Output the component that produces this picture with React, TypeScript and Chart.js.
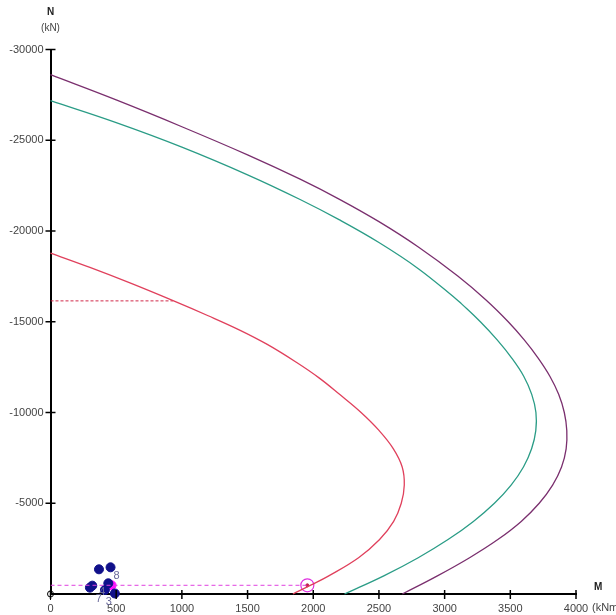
import React, { useEffect, useRef } from "react";
import { Chart, registerables } from "chart.js";

Chart.register(...registerables);

const xTickValues = [0, 500, 1000, 1500, 2000, 2500, 3000, 3500, 4000];
const yTickValues = [-30000, -25000, -20000, -15000, -10000, -5000];

const redM = [0, 300, 600, 933, 1200, 1440, 1650, 1871, 2044, 2200, 2364, 2502, 2610, 2677, 2693, 2670, 2612, 2505, 2345, 2118, 1985, 1845];
const redN = [-18780, -17990, -17150, -16160, -15330, -14540, -13750, -12767, -11907, -11000, -10000, -9000, -8000, -7000, -6000, -5000, -4000, -3000, -2000, -1000, -500, 0];

const greenM = [0, 500, 1000, 1500, 1900, 2200, 2500, 2800, 3087, 3127, 3272, 3400, 3511, 3602, 3663, 3695, 3694, 3662, 3600, 3506, 3379, 3219, 3026, 2799, 2537, 2238];
const greenN = [-27180, -25970, -24620, -23095, -21735, -20610, -19365, -17925, -16260, -16000, -15000, -14000, -13000, -12000, -11000, -10000, -9000, -8000, -7000, -6000, -5000, -4000, -3000, -2000, -1000, 0];

const purpleM = [0, 500, 1000, 1500, 1900, 2200, 2500, 2800, 3100, 3315, 3484, 3606, 3712, 3801, 3868, 3911, 3930, 3925, 3890, 3822, 3720, 3583, 3405, 3190, 2945, 2678];
const purpleN = [-28610, -27220, -25745, -24195, -22855, -21745, -20515, -19120, -17520, -16200, -15000, -14000, -13000, -12000, -11000, -10000, -9000, -8000, -7000, -6000, -5000, -4000, -3000, -2000, -1000, 0];

const redDashM = [0, 933];
const redDashN = [-16150, -16150];

const magentaDashM = [0, 1955];
const magentaDashN = [-480, -480];

const loadM = [369, 457, 318, 300, 414, 440, 490];
const loadN = [-1360, -1470, -460, -350, -220, -590, -30];
const loadLabels = ["", "", "", "", "7", "4", "3"];

const criticalM = [465];
const criticalN = [-480];
const criticalLabels = ["8"];

const designM = [1955];
const designN = [-480];

const toXY = (m: number[], n: number[]) => m.map((v, i) => ({ x: v, y: n[i] }));

const FONT = "'Liberation Sans', Arial, sans-serif";

const axisDecor = {
  id: "axisDecor",
  afterDraw(chart: any) {
    const ctx = chart.ctx;
    const xs = chart.scales.x;
    const ys = chart.scales.y;
    const x0 = xs.getPixelForValue(0);
    const y0 = ys.getPixelForValue(0);
    ctx.save();
    ctx.strokeStyle = "#000";
    ctx.lineWidth = 1.5;
    xTickValues.forEach((v) => {
      const px = xs.getPixelForValue(v);
      ctx.beginPath();
      ctx.moveTo(px, y0 - 4);
      ctx.lineTo(px, y0 + 5);
      ctx.stroke();
    });
    yTickValues.forEach((v) => {
      const py = ys.getPixelForValue(v);
      ctx.beginPath();
      ctx.moveTo(x0 - 5, py);
      ctx.lineTo(x0 + 5, py);
      ctx.stroke();
    });
    ctx.lineWidth = 1;
    ctx.beginPath();
    ctx.arc(x0, y0, 3, 0, Math.PI * 2);
    ctx.stroke();
    ctx.beginPath();
    ctx.moveTo(x0, y0 - 4);
    ctx.lineTo(x0, y0 + 6);
    ctx.stroke();

    ctx.fillStyle = "#222";
    ctx.textAlign = "center";
    ctx.textBaseline = "middle";
    ctx.font = `bold 10px ${FONT}`;
    ctx.fillText("N", x0, 12);
    ctx.font = `10px ${FONT}`;
    ctx.fillStyle = "#444";
    ctx.fillText("(kN)", x0, 28);
    ctx.textAlign = "left";
    ctx.font = `bold 10px ${FONT}`;
    ctx.fillStyle = "#222";
    ctx.fillText("M", 594, 587);
    ctx.font = `11px ${FONT}`;
    ctx.fillStyle = "#444";
    ctx.fillText("(kNm)", 592, 608);

    ctx.font = `11px ${FONT}`;
    ctx.fillStyle = "#6a6a9a";
    ctx.textAlign = "center";
    loadLabels.forEach((l, i) => {
      if (!l) return;
      const px = xs.getPixelForValue(loadM[i]);
      const py = ys.getPixelForValue(loadN[i]);
      ctx.fillText(l, px - 6, py + 9);
    });
    criticalLabels.forEach((l, i) => {
      const px = xs.getPixelForValue(criticalM[i]);
      const py = ys.getPixelForValue(criticalN[i]);
      ctx.fillText(l, px + 5, py - 9);
    });
    ctx.restore();
  },
};

export default function App() {
  const ref = useRef<HTMLCanvasElement>(null);
  useEffect(() => {
    if (!ref.current) return;
    const curve = (m: number[], n: number[], color: string) => ({
      data: toXY(m, n),
      showLine: true,
      borderColor: color,
      borderWidth: 1.3,
      pointRadius: 0,
      tension: 0.4,
      clip: false,
    });
    const chart = new Chart(ref.current, {
      type: "scatter",
      data: {
        datasets: [
          curve(redM, redN, "#e0405c"),
          curve(greenM, greenN, "#2a9c86"),
          curve(purpleM, purpleN, "#7a2f6e"),
          {
            data: toXY(redDashM, redDashN),
            showLine: true,
            borderColor: "#d02848",
            borderWidth: 1,
            borderDash: [3, 2],
            pointRadius: 0,
          },
          {
            data: toXY(magentaDashM, magentaDashN),
            showLine: true,
            borderColor: "#e040e0",
            borderWidth: 1,
            borderDash: [4, 3],
            pointRadius: 0,
          },
          {
            data: toXY(loadM, loadN),
            showLine: false,
            pointRadius: 4.5,
            backgroundColor: "#10108a",
            borderColor: "#10108a",
            clip: false,
          },
          {
            data: toXY(criticalM, criticalN),
            showLine: false,
            pointRadius: 4.5,
            backgroundColor: "#ff10ff",
            borderColor: "#ff10ff",
            clip: false,
          },
          {
            data: toXY(designM, designN),
            showLine: false,
            pointRadius: 6.5,
            borderWidth: 1.2,
            backgroundColor: "rgba(255,255,255,0)",
            borderColor: "#e030e0",
            clip: false,
          },
          {
            data: toXY(designM, designN),
            showLine: false,
            pointRadius: 1.5,
            backgroundColor: "#c02050",
            borderColor: "#c02050",
            clip: false,
          },
        ],
      },
      options: {
        responsive: false,
        animation: false,
        layout: { padding: { top: 49.5, right: 40, left: 0, bottom: 0 } },
        plugins: {
          legend: { display: false },
          tooltip: { enabled: false },
        },
        scales: {
          x: {
            type: "linear",
            min: 0,
            max: 4000,
            afterBuildTicks: (s: any) => {
              s.ticks = xTickValues.map((v) => ({ value: v }));
            },
            afterFit: (s: any) => {
              s.height = 21;
            },
            grid: { display: false, drawTicks: false },
            border: { display: true, color: "#000", width: 2 },
            ticks: {
              padding: 8,
              maxRotation: 0,
              color: "#444",
              font: { family: FONT, size: 11 },
              callback: (v: any) => String(v),
            },
          },
          y: {
            type: "linear",
            min: -30000,
            max: 0,
            reverse: true,
            afterBuildTicks: (s: any) => {
              s.ticks = yTickValues.map((v) => ({ value: v }));
            },
            afterFit: (s: any) => {
              s.width = 50.5;
            },
            grid: { display: false, drawTicks: false },
            border: { display: true, color: "#000", width: 2 },
            ticks: {
              padding: 7,
              color: "#444",
              font: { family: FONT, size: 11 },
              callback: (v: any) => String(v),
            },
          },
        },
      },
      plugins: [axisDecor],
    });
    return () => chart.destroy();
  }, []);
  return (
    <div style={{ position: "absolute", left: 0, top: 0, width: 616, height: 615, background: "#fff" }}>
      <canvas ref={ref} width={616} height={615} style={{ width: 616, height: 615 }} />
    </div>
  );
}
